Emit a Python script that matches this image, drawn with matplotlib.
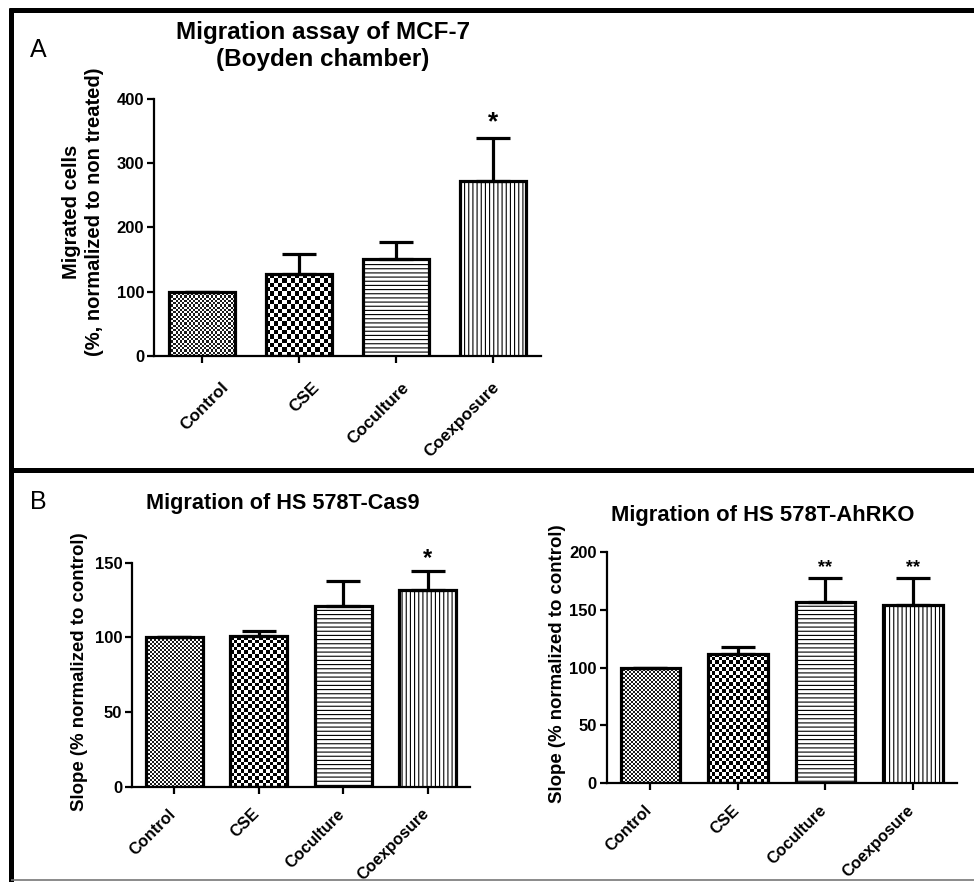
import numpy as np
import matplotlib
matplotlib.use('Agg')
import matplotlib.pyplot as plt
from matplotlib.colors import ListedColormap
from matplotlib.lines import Line2D
import matplotlib.transforms as mtrans

# ---------------- data ----------------
categories = ['Control', 'CSE', 'Coculture', 'Coexposure']

a_means = [100, 127, 151, 273]
a_err = [0, 32, 26, 67]
a_stars = ['', '', '', '*']
a_yticks = [0, 100, 200, 300, 400]

b1_means = [100, 101, 121, 131.5]
b1_err = [0, 3, 17, 13]
b1_stars = ['', '', '', '*']
b1_yticks = [0, 50, 100, 150]

b2_means = [100, 111.7, 156.3, 154.2]
b2_err = [0, 6, 21, 23]
b2_stars = ['', '', '**', '**']
b2_yticks = [0, 50, 100, 150, 200]

# ---------------- style ----------------
W, H = 974, 882
plt.rcParams['font.family'] = ['Liberation Sans', 'DejaVu Sans']
plt.rcParams['font.weight'] = 'bold'
plt.rcParams['hatch.linewidth'] = 0.8

fig = plt.figure(figsize=(W / 100, H / 100), dpi=100)


def fx(x):
    return x / W


def fy(y):
    return 1 - y / H


def px_axes(l, r, top, bottom):
    return fig.add_axes([l / W, 1 - bottom / H, (r - l) / W, (bottom - top) / H])


def checker(ax, bar, cell, dark):
    bb = bar.get_window_extent()
    nx = max(1, int(round(bb.width / cell)))
    ny = max(1, int(round(bb.height / cell)))
    arr = np.indices((ny, nx)).sum(axis=0) % 2
    x0 = bar.get_x()
    w = bar.get_width()
    h = bar.get_height()
    im = ax.imshow(arr, cmap=ListedColormap(['white', dark]), extent=(x0, x0 + w, 0, h),
                   aspect='auto', interpolation='nearest', origin='lower', zorder=2)
    im.set_clip_path(bar)


def panel(ax, means, errs, stars, yticks, fine_cell, coarse_cell, star_size, star_off,
          label_offsets=None, xfs=12, xpad=9):
    x = np.arange(len(categories))
    ax.set_xlim(-0.5, len(categories) - 0.5)
    ax.set_ylim(yticks[0], yticks[-1])
    bars = ax.bar(x, means, width=0.68, facecolor='none', edgecolor='black',
                  linewidth=2.3, zorder=3)
    bars[2].set_facecolor('white')
    bars[2].set_hatch('----')
    bars[3].set_facecolor('white')
    bars[3].set_hatch('||||')
    checker(ax, bars[0], fine_cell, '#1a1a1a')
    checker(ax, bars[1], coarse_cell, 'black')
    ax.set_xlim(-0.5, len(categories) - 0.5)
    ax.set_ylim(yticks[0], yticks[-1])
    ax.errorbar(x, means, yerr=[np.zeros(len(errs)), errs], fmt='none', ecolor='black',
                elinewidth=2.3, capsize=12, capthick=2.3, zorder=4)
    for xi, m, e, s in zip(x, means, errs, stars):
        if s:
            ax.annotate(s, (xi, m + e), xytext=(0, star_off), textcoords='offset points',
                        ha='center', va='baseline', fontsize=star_size, fontweight='bold')
    for sp in ['top', 'right']:
        ax.spines[sp].set_visible(False)
    for sp in ['left', 'bottom']:
        ax.spines[sp].set_linewidth(1.6)
    ax.set_yticks(yticks)
    ax.set_xticks(x)
    ax.set_xticklabels(categories, rotation=45, ha='right', va='top', fontsize=xfs)
    ax.tick_params(axis='y', direction='out', length=5, width=1.6, labelsize=12, pad=2)
    ax.tick_params(axis='x', direction='out', length=5, width=1.6, pad=xpad)
    ax.set_facecolor('none')
    if label_offsets is not None:
        for lab, dx in zip(ax.get_xticklabels(), label_offsets):
            lab.set_transform(lab.get_transform() +
                              mtrans.ScaledTranslation(dx / 100, 0, fig.dpi_scale_trans))


# Panel A
axA = px_axes(154, 541, 99, 356)
panel(axA, a_means, a_err, a_stars, a_yticks, 2.2, 4.2, 19, 6,
      label_offsets=[29, 23, 16, 10], xfs=12.3, xpad=12)
fig.text(fx(323), fy(46), 'Migration assay of MCF-7\n(Boyden chamber)', ha='center',
         va='center', fontsize=17.5, fontweight='bold', linespacing=1.25)
fig.text(fx(83), fy(212), 'Migrated cells\n(%, normalized to non treated)', rotation=90,
         ha='center', va='center', fontsize=14.5, fontweight='bold', linespacing=1.3)
fig.text(fx(38), fy(50), 'A', ha='center', va='center', fontsize=18, fontweight='normal')

# Panel B left
axB1 = px_axes(132, 470, 562.7, 786.7)
panel(axB1, b1_means, b1_err, b1_stars, b1_yticks, 2.0, 3.6, 17, 4,
      label_offsets=[4, 4, 4, 4], xfs=11.8)
fig.text(fx(283), fy(503), 'Migration of HS 578T-Cas9', ha='center', va='center',
         fontsize=15.6, fontweight='bold')
fig.text(fx(80), fy(672), 'Slope (% normalized to control)', rotation=90,
         ha='center', va='center', fontsize=13.4, fontweight='bold')
fig.text(fx(38), fy(502), 'B', ha='center', va='center', fontsize=18, fontweight='normal')

# Panel B right
axB2 = px_axes(606.7, 956.7, 551.7, 783.3)
panel(axB2, b2_means, b2_err, b2_stars, b2_yticks, 2.0, 3.6, 13, 4,
      label_offsets=[4, 4, 4, 4], xfs=11.8)
fig.text(fx(763), fy(515), 'Migration of HS 578T-AhRKO', ha='center', va='center',
         fontsize=15.8, fontweight='bold')
fig.text(fx(557), fy(664), 'Slope (% normalized to control)', rotation=90,
         ha='center', va='center', fontsize=13.4, fontweight='bold')

# Frame lines
lw = 3.6
fig.add_artist(Line2D([fx(10.5), fx(10.5)], [fy(8), fy(H)], color='black', lw=lw,
                      transform=fig.transFigure, solid_capstyle='butt'))
fig.add_artist(Line2D([fx(8.5), fx(W)], [fy(9.5), fy(9.5)], color='black', lw=lw,
                      transform=fig.transFigure, solid_capstyle='butt'))
fig.add_artist(Line2D([fx(10.5), fx(W)], [fy(470), fy(470)], color='black', lw=lw,
                      transform=fig.transFigure, solid_capstyle='butt'))
fig.add_artist(Line2D([fx(10.5), fx(W)], [fy(880), fy(880)], color='#777777', lw=1.2,
                      transform=fig.transFigure, solid_capstyle='butt'))

fig.savefig('out.png', dpi=100)
